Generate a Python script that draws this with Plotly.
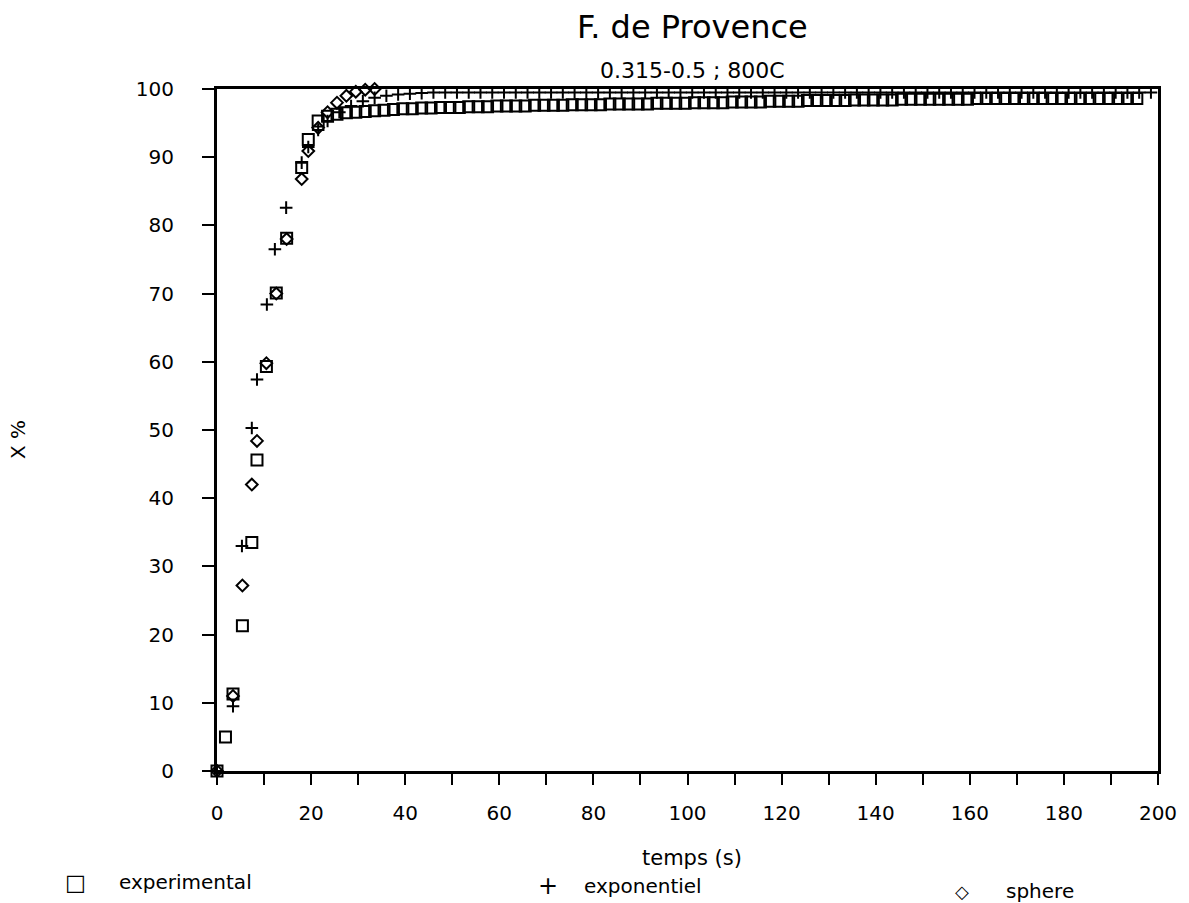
import plotly.graph_objects as go

# ---------------- data ----------------
t_exp = [0, 1.8, 3.4, 5.4, 7.4, 8.5, 10.5, 12.6, 14.8, 18.0, 19.4, 21.5,
         23.5, 25.5, 27.5, 29.5, 31.5, 33.5, 35.5, 37.5, 39.5, 41.5, 43.5, 45.5,
         47.5, 49.5, 51.5, 53.5, 55.5, 57.5, 59.5, 61.5, 63.5, 65.5, 67.5, 69.5,
         71.5, 73.5, 75.5, 77.5, 79.5, 81.5, 83.5, 85.5, 87.5, 89.5, 91.5, 93.5,
         95.5, 97.5, 99.5, 101.5, 103.5, 105.5, 107.5, 109.5, 111.5, 113.5, 115.5,
         117.5, 119.5, 121.5, 123.5, 125.5, 127.5, 129.5, 131.5, 133.5, 135.5,
         137.5, 139.5, 141.5, 143.5, 145.5, 147.5, 149.5, 151.5, 153.5, 155.5,
         157.5, 159.5, 161.5, 163.5, 165.5, 167.5, 169.5, 171.5, 173.5, 175.5,
         177.5, 179.5, 181.5, 183.5, 185.5, 187.5, 189.5, 191.5, 193.5, 195.5]
x_exp = [0, 5.0, 11.3, 21.3, 33.5, 45.6, 59.3, 70.1, 78.1, 88.5, 92.6, 95.3,
         96.0, 96.3, 96.5, 96.6, 96.7, 96.8, 96.9, 97.0, 97.1, 97.1, 97.2, 97.2,
         97.3, 97.3, 97.3, 97.4, 97.4, 97.4, 97.5, 97.5, 97.5, 97.5, 97.6, 97.6,
         97.6, 97.6, 97.7, 97.7, 97.7, 97.7, 97.8, 97.8, 97.8, 97.8, 97.8, 97.9,
         97.9, 97.9, 97.9, 98.0, 98.0, 98.0, 98.0, 98.1, 98.1, 98.1, 98.1,
         98.2, 98.2, 98.2, 98.2, 98.3, 98.3, 98.3, 98.3, 98.3, 98.4,
         98.4, 98.4, 98.4, 98.4, 98.5, 98.5, 98.5, 98.5, 98.5, 98.5,
         98.5, 98.5, 98.6, 98.6, 98.6, 98.6, 98.6, 98.6, 98.6, 98.6,
         98.6, 98.6, 98.6, 98.6, 98.6, 98.6, 98.6, 98.6, 98.6, 98.6]

t_expo = [0, 3.4, 5.3, 7.4, 8.5, 10.6, 12.3, 14.7, 18.0, 19.4, 21.5,
          23.5, 26.0, 28.5, 31.0, 33.5, 36.0, 38.5, 41.0, 43.5, 46.0, 48.5,
          51.0, 53.5, 56.0, 58.5, 61.0, 63.5, 66.0, 68.5, 71.0, 73.5, 76.0,
          78.5, 81.0, 83.5, 86.0, 88.5, 91.0, 93.5, 96.0, 98.5, 101.0, 103.5,
          106.0, 108.5, 111.0, 113.5, 116.0, 118.5, 121.0, 123.5, 126.0, 128.5,
          131.0, 133.5, 136.0, 138.5, 141.0, 143.5, 146.0, 148.5, 151.0, 153.5,
          156.0, 158.5, 161.0, 163.5, 166.0, 168.5, 171.0, 173.5, 176.0, 178.5,
          181.0, 183.5, 186.0, 188.5, 191.0, 193.5, 196.0, 198.5]
x_expo = [0, 9.5, 33.0, 50.3, 57.4, 68.4, 76.5, 82.6, 89.2, 91.5, 94.0,
          95.3, 96.6, 97.5, 98.2, 98.7, 99.0, 99.2, 99.3, 99.4, 99.5, 99.5,
          99.5, 99.5, 99.5, 99.5, 99.5, 99.5, 99.5, 99.5, 99.5, 99.5, 99.5,
          99.5, 99.5, 99.5, 99.5, 99.5, 99.5, 99.5, 99.5, 99.5, 99.5, 99.5,
          99.5, 99.5, 99.5, 99.5, 99.5, 99.5, 99.5, 99.5, 99.5, 99.5,
          99.5, 99.5, 99.5, 99.5, 99.5, 99.5, 99.5, 99.5, 99.5, 99.5,
          99.5, 99.5, 99.5, 99.5, 99.5, 99.5, 99.5, 99.5, 99.5, 99.5,
          99.5, 99.5, 99.5, 99.5, 99.5, 99.5, 99.5, 99.5]

t_sph = [0, 3.4, 5.4, 7.4, 8.5, 10.5, 12.6, 14.8, 18.0, 19.4, 21.5,
         23.5, 25.5, 27.5, 29.5, 31.5, 33.5]
x_sph = [0, 11.0, 27.2, 42.0, 48.4, 59.8, 70.0, 78.0, 86.8, 90.9, 94.3,
         96.6, 98.0, 99.0, 99.6, 99.9, 100.0]

x_ticks = [0, 20, 40, 60, 80, 100, 120, 140, 160, 180, 200]
x_minor = [10, 30, 50, 70, 90, 110, 130, 150, 170, 190]
y_ticks = [0, 10, 20, 30, 40, 50, 60, 70, 80, 90, 100]

title = "F. de Provence"
subtitle = "0.315-0.5 ; 800C"
x_title = "temps (s)"
y_title = "X %"
names = ["experimental", "exponentiel", "sphere"]

# ---------------- layout geometry ----------------
W, H = 1189, 903
L, R, T, B = 217, 31, 89, 132
PW, PH = W - L - R, H - T - B
FONT = "DejaVu Sans"


def px(x):
    return (x - L) / PW


def py(y):
    return (H - B - y) / PH


fig = go.Figure()
fig.add_trace(go.Scatter(x=t_exp, y=x_exp, mode="markers", name=names[0],
                         cliponaxis=False,
                         marker=dict(symbol="square-open", size=11, color="black",
                                     line=dict(width=2, color="black"))))
fig.add_trace(go.Scatter(x=t_expo, y=x_expo, mode="markers", name=names[1],
                         cliponaxis=False,
                         marker=dict(symbol="cross-thin-open", size=9, color="black",
                                     line=dict(width=2, color="black"))))
fig.add_trace(go.Scatter(x=t_sph, y=x_sph, mode="markers", name=names[2],
                         cliponaxis=False,
                         marker=dict(symbol="diamond-open", size=9, color="black",
                                     line=dict(width=2, color="black"))))

fig.update_layout(
    width=W, height=H,
    margin=dict(l=L, r=R, t=T, b=B, pad=0),
    paper_bgcolor="white", plot_bgcolor="white",
    showlegend=False,
    font=dict(family=FONT, size=20, color="black"),
    xaxis=dict(range=[0, 200], tickvals=x_ticks, ticktext=[str(v) for v in x_ticks],
               ticks="outside", ticklen=11, tickwidth=2, tickcolor="black",
               minor=dict(tickvals=x_minor,
                          ticks="outside", ticklen=11, tickwidth=2, tickcolor="black"),
               showline=True, linewidth=3, linecolor="black", mirror=True,
               showgrid=False, zeroline=False, ticklabelstandoff=11,
               tickfont=dict(family=FONT, size=20)),
    yaxis=dict(range=[0, 100], tickvals=y_ticks, ticktext=[str(v) for v in y_ticks],
               ticks="outside", ticklen=12, tickwidth=2, tickcolor="black",
               showline=True, linewidth=3, linecolor="black", mirror=True,
               showgrid=False, zeroline=False, ticklabelstandoff=24,
               tickfont=dict(family=FONT, size=20)),
)

ann = [
    dict(text=title, x=px(692), y=py(27), font=dict(size=32)),
    dict(text=subtitle, x=px(692), y=py(70), font=dict(size=22)),
    dict(text=x_title, x=px(692), y=py(858), font=dict(size=21)),
    dict(text=y_title, x=px(18), y=py(440), font=dict(size=20), textangle=-90),
    dict(text="\u25a1", x=px(75), y=py(882), font=dict(size=22)),
    dict(text=names[0], x=px(117), y=py(882), xanchor="left", font=dict(size=20)),
    dict(text="+", x=px(548), y=py(886), font=dict(size=24)),
    dict(text=names[1], x=px(582), y=py(886), xanchor="left", font=dict(size=20)),
    dict(text="\u25c7", x=px(962), y=py(891), font=dict(size=18)),
    dict(text=names[2], x=px(1004), y=py(891), xanchor="left", font=dict(size=20)),
]
for a in ann:
    a.setdefault("xanchor", "center")
    fig.add_annotation(xref="paper", yref="paper", showarrow=False,
                       yanchor="middle", **a)

fig.write_html("out.html")
